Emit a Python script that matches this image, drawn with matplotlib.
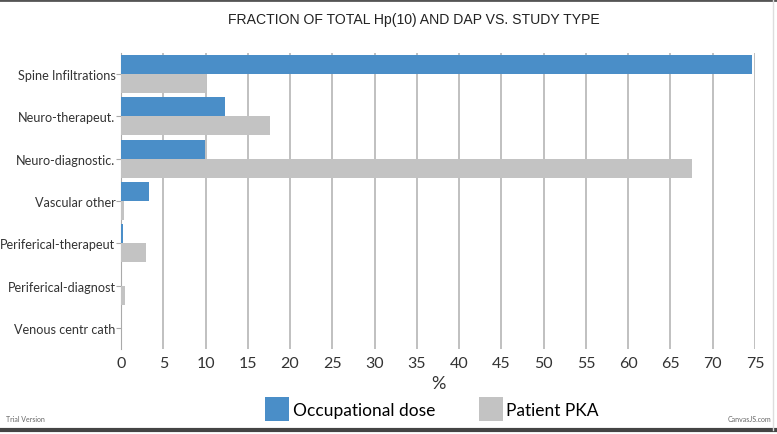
import matplotlib
matplotlib.use("Agg")
import matplotlib.pyplot as plt
import numpy as np
from matplotlib.patches import Patch
from matplotlib.lines import Line2D

categories = ["Spine Infiltrations", "Neuro-therapeut.", "Neuro-diagnostic.", "Vascular other",
              "Periferical-therapeut", "Periferical-diagnost", "Venous centr cath"]
occupational = [74.6, 12.3, 9.9, 3.3, 0.2, 0.0, 0.0]
patient_pka = [10.0, 17.6, 67.5, 0.4, 3.0, 0.5, 0.0]
xticks = list(range(0, 80, 5))

blue = "#4a8ec8"
gray = "#c3c3c3"
font = "Lato"

fig = plt.figure(figsize=(7.77, 4.35), dpi=100)
ax = fig.add_axes([121/777, 1-350/435, (755-121)/777, (350-54)/435])

y = np.arange(len(categories))
h = 0.45
ax.barh(y - h/2, occupational, height=h, color=blue, zorder=3)
ax.barh(y + h/2, patient_pka, height=h, color=gray, zorder=3)
ax.set_ylim(len(categories) - 0.5, -0.5)
ax.set_xlim(0, 75)
ax.set_xticks(xticks)
ax.set_xticklabels([str(t) for t in xticks], fontsize=11.5, family=font, color="#333333")
ax.set_yticks(y)
ax.set_yticklabels(categories, fontsize=9.1, family=font, color="#333333")
ax.tick_params(axis="y", length=3.5, color="#aaaaaa", pad=0.5)
ax.tick_params(axis="x", length=0, pad=5)
ax.grid(axis="x", color="#b5b5b5", linewidth=1.2, zorder=0)
for s in ["top", "right", "bottom"]:
    ax.spines[s].set_visible(False)
ax.spines["left"].set_color("#aaaaaa")
ax.set_xlabel("%", fontsize=13, family=font, color="#333333", labelpad=4)

fig.text(414/777, 1-20/435, "FRACTION OF TOTAL Hp(10) AND DAP VS. STUDY TYPE", ha="center", va="center",
         fontsize=10.1, family="Liberation Sans", color="#222222")

handles = [Patch(facecolor=blue, label="Occupational dose"), Patch(facecolor=gray, label="Patient PKA")]
fig.legend(handles=handles, loc="center", bbox_to_anchor=(432/777, 1-410/435), ncol=2, frameon=False,
           prop={"family": font, "size": 12.5}, handlelength=1.4, handleheight=1.7, columnspacing=2.5,
           handletextpad=0.2)

fig.text(6/777, 1-420/435, "Trial Version", fontsize=5, color="#666666", va="center", family=font)
fig.text(771/777, 1-420/435, "CanvasJS.com", fontsize=5, color="#666666", va="center", ha="right", family=font)

fig.add_artist(Line2D([0, 1], [1-1/435, 1-1/435], color="#555555", linewidth=2, transform=fig.transFigure))
fig.add_artist(Line2D([0, 1], [1-431/435, 1-431/435], color="#444444", linewidth=3, transform=fig.transFigure))
fig.add_artist(Line2D([773/777, 773/777], [1-431/435, 1-1/435], color="#dddddd", linewidth=1, transform=fig.transFigure))

fig.savefig("out.png", dpi=100)
